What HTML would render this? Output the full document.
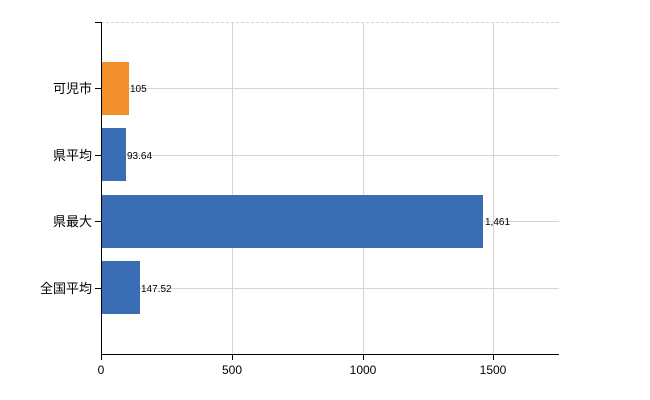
<!DOCTYPE html>
<html><head><meta charset="utf-8"><style>
body{margin:0;background:#fff;}
svg{display:block;font-family:"Liberation Sans","Noto Sans CJK JP",sans-serif;}
</style></head><body>
<svg width="650" height="400" xmlns="http://www.w3.org/2000/svg">
<g stroke="#d4d4d4" stroke-width="1">
<line x1="101" y1="22.5" x2="559" y2="22.5" stroke-dasharray="3,2"/>
<line x1="232.5" y1="22" x2="232.5" y2="354"/>
<line x1="363.5" y1="22" x2="363.5" y2="354"/>
<line x1="493.5" y1="22" x2="493.5" y2="354"/>
<line x1="101" y1="88.5" x2="559" y2="88.5"/>
<line x1="101" y1="155.5" x2="559" y2="155.5"/>
<line x1="101" y1="221.5" x2="559" y2="221.5"/>
<line x1="101" y1="288.5" x2="559" y2="288.5"/>
</g>
<rect x="101" y="62" width="28" height="53" fill="#f28e2b"/>
<rect x="101" y="128" width="25" height="53" fill="#3b6db4"/>
<rect x="101" y="195" width="382" height="53" fill="#3b6db4"/>
<rect x="101" y="261" width="39" height="53" fill="#3b6db4"/>
<g stroke="#000" stroke-width="1">
<line x1="101.5" y1="22" x2="101.5" y2="354"/>
<line x1="101" y1="354.5" x2="559" y2="354.5"/>
<line x1="95" y1="22.5" x2="101" y2="22.5"/>
<line x1="95" y1="88.5" x2="101" y2="88.5"/>
<line x1="95" y1="155.5" x2="101" y2="155.5"/>
<line x1="95" y1="221.5" x2="101" y2="221.5"/>
<line x1="95" y1="288.5" x2="101" y2="288.5"/>
<line x1="101.5" y1="354" x2="101.5" y2="360"/>
<line x1="232.5" y1="354" x2="232.5" y2="360"/>
<line x1="363.5" y1="354" x2="363.5" y2="360"/>
<line x1="493.5" y1="354" x2="493.5" y2="360"/>
</g>
<g font-size="13" fill="#000" text-anchor="end">
<text x="92" y="93">可児市</text>
<text x="92" y="160">県平均</text>
<text x="92" y="226">県最大</text>
<text x="92" y="293">全国平均</text>
</g>
<g font-size="10" fill="#000">
<text x="130" y="92">105</text>
<text x="127" y="159">93.64</text>
<text x="485" y="225">1,461</text>
<text x="141" y="292">147.52</text>
</g>
<g font-size="12" fill="#000" text-anchor="middle">
<text x="101" y="374">0</text>
<text x="232" y="374">500</text>
<text x="363" y="374">1000</text>
<text x="493" y="374">1500</text>
</g>
</svg>
</body></html>
